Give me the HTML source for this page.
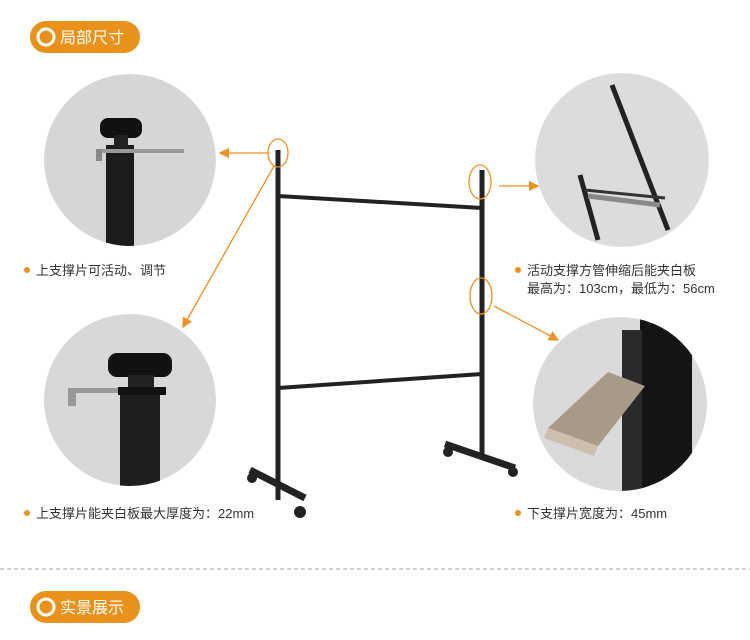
<!DOCTYPE html>
<html><head><meta charset="utf-8"><style>
body{margin:0;width:750px;height:635px;background:#fff;overflow:hidden;font-family:"Liberation Sans","Noto Sans CJK SC",sans-serif;}
</style></head><body>
<svg width="750" height="635" viewBox="0 0 750 635" xmlns="http://www.w3.org/2000/svg">
<defs>
<marker id="a" markerWidth="8" markerHeight="8" refX="7" refY="4" orient="auto"><path d="M0,0 L8,4 L0,8 Z" fill="#f0901e"/></marker>
<clipPath id="c1"><circle cx="130" cy="160" r="86"/></clipPath>
<clipPath id="c2"><circle cx="130" cy="400" r="86"/></clipPath>
<clipPath id="c3"><circle cx="622" cy="160" r="87"/></clipPath>
<clipPath id="c4"><circle cx="620" cy="404" r="87"/></clipPath>
</defs>
<rect x="30" y="21" width="110" height="32" rx="16" fill="#e8921c"/>
<circle cx="46" cy="37" r="8" fill="none" stroke="#fff" stroke-width="3"/>
<text x="60" y="43" font-size="16" fill="#fff" font-family="Noto Sans CJK SC,sans-serif">局部尺寸</text>
<rect x="30" y="591" width="110" height="32" rx="16" fill="#e8921c"/>
<circle cx="46" cy="607" r="8" fill="none" stroke="#fff" stroke-width="3"/>
<text x="60" y="613" font-size="16" fill="#fff" font-family="Noto Sans CJK SC,sans-serif">实景展示</text>
<line x1="0" y1="569" x2="750" y2="569" stroke="#aaa" stroke-dasharray="4,3"/>
<g clip-path="url(#c1)">
<circle cx="130" cy="160" r="86" fill="#d6d6d6"/>
<rect x="106" y="145" width="28" height="110" fill="#1c1c1c"/>
<rect x="100" y="118" width="42" height="20" rx="8" fill="#111"/>
<rect x="114" y="135" width="14" height="12" fill="#222"/>
<rect x="96" y="149" width="88" height="4" fill="#999"/>
<rect x="96" y="149" width="6" height="12" fill="#888"/>
</g>
<g clip-path="url(#c2)">
<circle cx="130" cy="400" r="86" fill="#d8d8d8"/>
<rect x="120" y="390" width="40" height="110" fill="#1e1e1e"/>
<rect x="108" y="353" width="64" height="24" rx="9" fill="#111"/>
<rect x="128" y="375" width="26" height="15" fill="#222"/>
<rect x="70" y="388" width="60" height="5" fill="#999"/>
<rect x="68" y="388" width="8" height="18" fill="#999"/>
<rect x="118" y="387" width="48" height="8" fill="#111"/>
</g>
<g clip-path="url(#c3)">
<circle cx="622" cy="160" r="87" fill="#dcdcdc"/>
<line x1="612" y1="85" x2="668" y2="230" stroke="#222" stroke-width="5"/>
<line x1="580" y1="175" x2="598" y2="240" stroke="#222" stroke-width="5"/>
<line x1="588" y1="196" x2="660" y2="205" stroke="#888" stroke-width="5"/>
<line x1="585" y1="190" x2="665" y2="198" stroke="#333" stroke-width="3"/>
</g>
<g clip-path="url(#c4)">
<circle cx="620" cy="404" r="87" fill="#dadada"/>
<rect x="640" y="310" width="52" height="190" fill="#141414"/>
<rect x="622" y="330" width="20" height="170" fill="#2a2a2a"/>
<polygon points="548,428 608,372 645,386 598,446" fill="#a89a88"/>
<polygon points="548,428 598,446 594,456 544,438" fill="#cdbfae"/>
</g>
<g stroke="#222" fill="none">
<line x1="278" y1="150" x2="278" y2="500" stroke-width="5"/>
<line x1="482" y1="170" x2="482" y2="455" stroke-width="5"/>
<line x1="278" y1="196" x2="482" y2="208" stroke-width="4"/>
<line x1="278" y1="388" x2="482" y2="374" stroke-width="4"/>
<line x1="250" y1="470" x2="305" y2="498" stroke-width="7"/>
<line x1="445" y1="444" x2="515" y2="468" stroke-width="7"/>
</g>
<circle cx="252" cy="478" r="5" fill="#222"/><circle cx="300" cy="512" r="6" fill="#222"/>
<circle cx="448" cy="452" r="5" fill="#222"/><circle cx="513" cy="472" r="5" fill="#222"/>
<g stroke="#f0901e" fill="none" stroke-width="1.3">
<ellipse cx="278" cy="153" rx="10" ry="14"/>
<ellipse cx="480" cy="182" rx="11" ry="17"/>
<ellipse cx="481" cy="296" rx="11" ry="18"/>
<line x1="268" y1="153" x2="220" y2="153" marker-end="url(#a)"/>
<line x1="274" y1="166" x2="183" y2="327" marker-end="url(#a)"/>
<line x1="499" y1="186" x2="538" y2="186" marker-end="url(#a)"/>
<line x1="494" y1="306" x2="558" y2="340" marker-end="url(#a)"/>
</g>
<g font-size="13" fill="#333" font-family="Liberation Sans,Noto Sans CJK SC,sans-serif">
<circle cx="27" cy="270" r="3" fill="#f0901e"/><text x="36" y="275">上支撑片可活动、调节</text>
<circle cx="27" cy="513" r="3" fill="#f0901e"/><text x="36" y="518">上支撑片能夹白板最大厚度为：22mm</text>
<circle cx="518" cy="270" r="3" fill="#f0901e"/><text x="527" y="275">活动支撑方管伸缩后能夹白板</text>
<text x="527" y="293">最高为：103cm，最低为：56cm</text>
<circle cx="518" cy="513" r="3" fill="#f0901e"/><text x="527" y="518">下支撑片宽度为：45mm</text>
</g>
</svg>
</body></html>
